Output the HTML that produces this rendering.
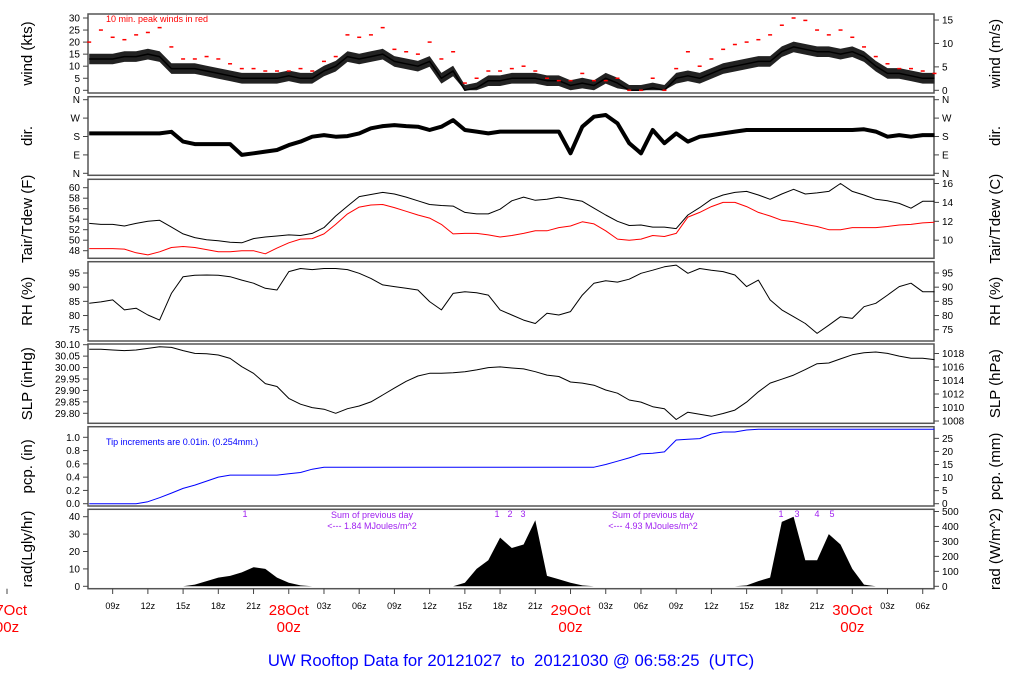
<!DOCTYPE html>
<html><head><meta charset="utf-8"><style>
html,body{margin:0;padding:0;background:#fff;width:1024px;height:700px;overflow:hidden}
svg{display:block;font-family:"Liberation Sans",sans-serif}
</style></head><body>
<svg id="c" width="1024" height="700" viewBox="0 0 1024 700" xmlns="http://www.w3.org/2000/svg"></svg>
<script>
// hourly data, hours since 28Oct 00z, from -17 to 55
const hours = [];
for (let h = -17; h <= 55; h++) hours.push(h);
const windMean = [13,13,13,14,14,15,14,9,9,9,8,7,6,5,5,5,5,6,5,5,8,10,14,13,14,15,12,11,10,12,5,8,0,1,4,4,5,5,5,4,4,2,3,2,5,3,0,0,1,0,5,6,5,7,9,10,11,12,12,16,18,17,16,16,15,16,14,10,7,7,6,5,5];
const windGust = [20,25,22,21,23,24,26,18,13,13,14,13,11,9,9,8,8,8,9,8,12,14,23,22,23,26,17,16,15,20,13,16,3,5,8,8,9,10,8,5,4,4,7,4,4,5,0,0,5,0,9,16,10,13,17,19,20,21,23,27,30,29,25,23,25,22,18,14,11,9,9,8,7];
const windDir = [195,195,195,195,195,195,195,203,155,143,143,143,143,90,98,106,114,138,155,179,187,179,182,195,220,231,236,231,228,212,228,260,212,204,195,204,204,204,204,204,204,98,228,277,285,244,147,98,212,147,195,155,179,187,195,204,212,212,212,212,212,212,212,212,212,212,215,204,179,187,179,187,187];
const tair = [53.2,53,53,52.7,53.2,53.6,53.8,52.5,51.2,50.5,50.1,49.9,49.6,49.5,50.3,50.6,50.8,51,50.9,51.3,52.4,54.6,56.5,58.3,58.7,59.1,58.8,58.2,57.5,56.8,56.6,56.5,55.3,55,55,55.9,57.5,58.2,57.6,57.8,58.2,57.8,57.4,56.1,54.8,53.6,52.8,52.9,52.5,52.5,52.2,54.8,56.2,57.8,58.6,59.1,59.3,58.6,57.8,58.8,59.7,58.8,59,59.3,60.8,59.3,58.6,57.8,57.5,57,56.1,57.4,57.4];
const tdew = [48.4,48.4,48.4,48.3,47.6,47.2,47.8,48.6,48.8,48.6,48.2,47.8,47.8,48,48,47.4,48.5,49.5,50.2,50.3,51.2,53,55,56.3,56.7,56.8,56.2,55.5,54.8,54.2,53,51.2,51.3,51.3,51,50.6,50.9,51.3,51.8,51.8,52.4,52.7,53.5,53.1,51.8,50.2,50,50.2,50.9,50.7,51.3,54.4,55.3,56.4,57.2,57.2,56.4,55.3,54.6,53.8,53.5,53,52.6,52,52,52.4,52.4,52.4,52.6,52.9,53,53.3,53.4];
const rh = [84.3,84.8,85.5,82,82.6,80.2,78.4,87.8,93.7,94.2,94.3,94.2,93.7,92.5,91.4,89.6,89,95.5,96.6,96.2,96.6,96.6,96.2,94.9,93.1,90.8,90.2,89.6,89,84.9,82,87.8,88.4,88,87.2,82,80.2,78.4,77.2,80.8,80.2,81.4,87.2,91.4,92.3,91.8,92.8,94.9,96,97.2,97.8,94.9,96.6,96,95.5,94.3,90.2,92.5,85.5,82,79.6,77.2,73.7,76.6,79.6,79,83.1,84.3,87.2,90.2,91.4,88.4,88.4];
const slp = [30.08,30.08,30.077,30.074,30.077,30.084,30.091,30.088,30.074,30.062,30.06,30.055,30.04,30.004,29.975,29.93,29.917,29.865,29.84,29.825,29.818,29.80,29.82,29.832,29.85,29.88,29.91,29.94,29.963,29.975,29.975,29.977,29.982,29.99,30.0,30.003,29.998,29.994,29.982,29.967,29.961,29.937,29.932,29.923,29.902,29.888,29.858,29.849,29.829,29.82,29.773,29.805,29.796,29.787,29.799,29.814,29.849,29.894,29.932,29.949,29.967,29.991,30.017,30.02,30.038,30.056,30.065,30.068,30.062,30.05,30.041,30.041,30.035];
const pcp = [0,0,0,0,0,0.03,0.09,0.16,0.23,0.28,0.34,0.40,0.43,0.43,0.43,0.43,0.43,0.45,0.47,0.52,0.55,0.55,0.55,0.55,0.55,0.55,0.55,0.55,0.55,0.55,0.55,0.55,0.55,0.55,0.55,0.55,0.55,0.55,0.55,0.55,0.55,0.55,0.55,0.55,0.59,0.64,0.69,0.75,0.76,0.78,0.96,0.97,0.98,1.05,1.08,1.08,1.11,1.12,1.12,1.12,1.12,1.12,1.12,1.12,1.12,1.12,1.12,1.12,1.12,1.12,1.12,1.12,1.12];
const rad = [0,0,0,0,0,0,0,0,0,1,3,5,6,8,11,10,5,2,0.5,0,0,0,0,0,0,0,0,0,0,0,0,0,2,10,15,28,22,24,38,6,4,2,0.5,0,0,0,0,0,0,0,0,0,0,0,0,0,0.5,3,5,37,40,15,15,30,24,10,1,0,0,0,0,0,0];
const xTickHours = [-15,-12,-9,-6,-3,3,6,9,12,15,18,21,27,30,33,36,39,42,45,51,54];
const xTickLabels = ["09z","12z","15z","18z","21z","03z","06z","09z","12z","15z","18z","21z","03z","06z","09z","12z","15z","18z","21z","03z","06z"];
const dayHours = [-24,0,24,48];
const dayLabels = ["27Oct","28Oct","29Oct","30Oct"];

const svg = document.getElementById('c');
const NS = 'http://www.w3.org/2000/svg';
function el(tag, attrs, parent, text){
  const e = document.createElementNS(NS, tag);
  for (const k in attrs) e.setAttribute(k, attrs[k]);
  if (text !== undefined) e.textContent = text;
  (parent||svg).appendChild(e);
  return e;
}
const X0 = 88, X1 = 934, T0 = -17.1, T1 = 54.96;
const xs = t => X0 + (t - T0) / (T1 - T0) * (X1 - X0);
function lin(v0, y0, v1, y1){ return v => y0 + (v - v0) / (v1 - v0) * (y1 - y0); }

const panels = [
  {name:'wind', top:14, bot:93, l:'wind (kts)', r:'wind (m/s)'},
  {name:'dir', top:96.7, bot:175.3, l:'dir.', r:'dir.'},
  {name:'temp', top:179.3, bot:258.3, l:'Tair/Tdew (F)', r:'Tair/Tdew (C)'},
  {name:'rh', top:261.7, bot:341, l:'RH (%)', r:'RH (%)'},
  {name:'slp', top:344, bot:423.3, l:'SLP (inHg)', r:'SLP (hPa)'},
  {name:'pcp', top:426.7, bot:506, l:'pcp. (in)', r:'pcp. (mm)'},
  {name:'rad', top:509.3, bot:588.7, l:'rad(Lgly/hr)', r:'rad (W/m^2)'}
];
const scales = {
  wind: lin(0, 90.3, 30, 18),
  dir: lin(0, 173.3, 360, 99.7),
  temp: lin(48, 250.7, 60, 187.7),
  rh: lin(75, 329.7, 95, 273),
  slp: lin(29.8, 413.3, 30.1, 344.7),
  pcp: lin(0, 503.7, 1, 437.3),
  rad: lin(0, 586.3, 40, 516.7)
};
const leftTicks = {
  wind: [[0,'0'],[5,'5'],[10,'10'],[15,'15'],[20,'20'],[25,'25'],[30,'30']],
  dir: [[0,'N'],[90,'E'],[180,'S'],[270,'W'],[360,'N']],
  temp: [[48,'48'],[50,'50'],[52,'52'],[54,'54'],[56,'56'],[58,'58'],[60,'60']],
  rh: [[75,'75'],[80,'80'],[85,'85'],[90,'90'],[95,'95']],
  slp: [[29.8,'29.80'],[29.85,'29.85'],[29.9,'29.90'],[29.95,'29.95'],[30,'30.00'],[30.05,'30.05'],[30.1,'30.10']],
  pcp: [[0,'0.0'],[0.2,'0.2'],[0.4,'0.4'],[0.6,'0.6'],[0.8,'0.8'],[1,'1.0']],
  rad: [[0,'0'],[10,'10'],[20,'20'],[30,'30'],[40,'40']]
};
const rightTicks = {
  wind: [0,5,10,15].map(v=>[v/0.5144,''+v]),
  dir: leftTicks.dir,
  temp: [10,12,14,16].map(v=>[v*1.8+32,''+v]),
  rh: leftTicks.rh,
  slp: [1008,1010,1012,1014,1016,1018].map(v=>[v*0.02953,''+v]),
  pcp: [0,5,10,15,20,25].map(v=>[v/25.4,''+v]),
  rad: [0,100,200,300,400,500].map(v=>[v/11.63,''+v])
};

panels.forEach(p => {
  const g = el('g', {});
  
  
  const sc = scales[p.name];
  el('rect', {x:X0, y:p.top, width:X1-X0, height:p.bot-p.top, fill:'none', stroke:'#555', 'stroke-width':1.5}, g);
  leftTicks[p.name].forEach(([v,lab]) => {
    const y = sc(v);
    el('line', {x1:X0-5, x2:X0, y1:y, y2:y, stroke:'#444'}, g);
    el('text', {x:X0-8, y:y+3.5, 'font-size':10, 'text-anchor':'end', fill:'#000'}, g, lab);
  });
  rightTicks[p.name].forEach(([v,lab]) => {
    const y = sc(v);
    el('line', {x1:X1, x2:X1+5, y1:y, y2:y, stroke:'#444'}, g);
    el('text', {x:X1+8, y:y+3.5, 'font-size':10, fill:'#000'}, g, lab);
  });
  const cy = (p.top+p.bot)/2;
  const lt = el('text', {x:0, y:0, 'font-size':15, 'text-anchor':'middle', transform:`translate(32 ${cy}) rotate(-90)`}, g, p.l);
  
  
  const rt = el('text', {x:0, y:0, 'font-size':15, 'text-anchor':'middle', transform:`translate(1000 ${cy}) rotate(-90)`}, g, p.r);
  
  
});

function line(arr, sc, color, w, name){
  const pts = arr.map((v,i)=>xs(hours[i]).toFixed(1)+','+sc(v).toFixed(1)).join(' ');
  const e = el('polyline', {points:pts, fill:'none', stroke:color, 'stroke-width':w, 'stroke-linejoin':'round'});
  
  
  return e;
}
{
  const sc = scales.wind;
  const up = windMean.map((v,i)=>xs(hours[i]).toFixed(1)+','+sc(v+2.2).toFixed(1));
  const dn = windMean.map((v,i)=>xs(hours[i]).toFixed(1)+','+sc(Math.max(0,v-2.2)).toFixed(1)).reverse();
  const b = el('polygon', {points:up.concat(dn).join(' '), fill:'#222'});
  
  
  line(windMean, sc, '#000', 1.5, 'wind-speed-line');
  windGust.forEach((v,i) => {
    const x = xs(hours[i]), y = sc(v);
    const d = el('line', {x1:x-2, x2:x+2, y1:y, y2:y, stroke:'#f00', 'stroke-width':1.5});
    
    
  });
  const t = el('text', {x:106, y:22, 'font-size':9, fill:'#f00'}, svg, '10 min. peak winds in red');
  
  
}
line(windDir, scales.dir, '#000', 4, 'wind-direction-trace');
line(tair, scales.temp, '#000', 1, 'air-temperature-line');
line(tdew, scales.temp, '#f00', 1, 'dewpoint-line');
line(rh, scales.rh, '#000', 1, 'relative-humidity-line');
line(slp, scales.slp, '#000', 1, 'sea-level-pressure-line');
line(pcp, scales.pcp, '#00f', 1, 'precipitation-line');
{
  const t = el('text', {x:106, y:445, 'font-size':9, fill:'#00f'}, svg, 'Tip increments are 0.01in. (0.254mm.)');
  
  
  const sc = scales.rad;
  const pts = rad.map((v,i)=>xs(hours[i]).toFixed(1)+','+sc(v).toFixed(1));
  pts.push(xs(hours[hours.length-1]).toFixed(1)+','+sc(0).toFixed(1));
  pts.unshift(xs(hours[0]).toFixed(1)+','+sc(0).toFixed(1));
  const a = el('polygon', {points:pts.join(' '), fill:'#000'});
  
  
  const P = '#a020f0';
  [[245,'1'],[497,'1'],[510,'2'],[523,'3'],[781,'1'],[797,'3'],[817,'4'],[832,'5']].forEach(([x,s])=>{
    const n = el('text', {x:x, y:517, 'font-size':9, fill:P, 'text-anchor':'middle'}, svg, s);
    
    
  });
  [[372,'1.84'],[653,'4.93']].forEach(([x,v])=>{
    const a1 = el('text', {x:x, y:518, 'font-size':9, fill:P, 'text-anchor':'middle'}, svg, 'Sum of previous day');
    
    
    const a2 = el('text', {x:x, y:529, 'font-size':9, fill:P, 'text-anchor':'middle'}, svg, '<--- ' + v + ' MJoules/m^2');
    
    
  });
}
xTickHours.forEach((h,i) => {
  const x = xs(h);
  el('line', {x1:x, x2:x, y1:588.7, y2:594, stroke:'#444'});
  const t = el('text', {x:x, y:609, 'font-size':9, 'text-anchor':'middle'}, svg, xTickLabels[i]);
  
  
});
dayHours.forEach((h,i) => {
  const x = xs(h);
  el('line', {x1:x, x2:x, y1:588.7, y2:594, stroke:'#444'});
  const a = el('text', {x:x, y:615, 'font-size':15, 'text-anchor':'middle', fill:'#f00'}, svg, dayLabels[i]);
  
  
  const b = el('text', {x:x, y:632, 'font-size':15, 'text-anchor':'middle', fill:'#f00'}, svg, '00z');
  
  
});
{
  const t = el('text', {x:511, y:666, 'font-size':16.7, 'text-anchor':'middle', fill:'#00f'}, svg, 'UW Rooftop Data for 20121027  to  20121030 @ 06:58:25  (UTC)');
  
  
  t.style.whiteSpace = 'pre';
}
</script>
</body></html>
